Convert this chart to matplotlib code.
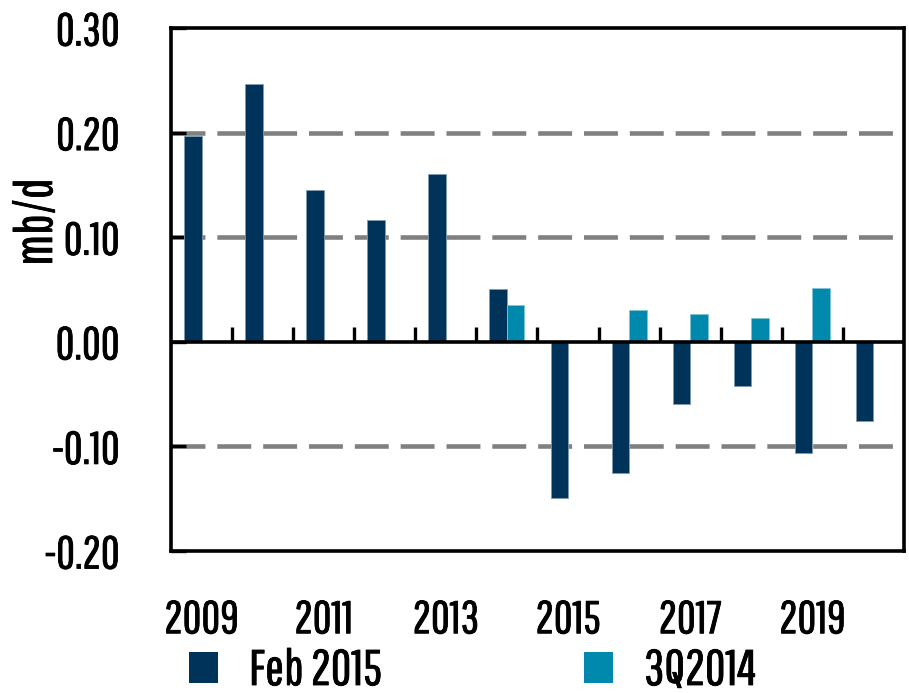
import numpy as np
import matplotlib
matplotlib.use("Agg")
import matplotlib.pyplot as plt
from matplotlib.patches import Patch
from matplotlib import font_manager as fm
import matplotlib.patheffects as pe

years = ["2009", "2010", "2011", "2012", "2013", "2014", "2015", "2016", "2017", "2018", "2019", "2020"]
feb2015 = [0.197, 0.246, 0.145, 0.116, 0.160, 0.050, -0.149, -0.125, -0.059, -0.042, -0.106, -0.076]
q3_2014 = [np.nan, np.nan, np.nan, np.nan, np.nan, 0.035, 0.001, 0.030, 0.027, 0.023, 0.051, np.nan]
yticks = [-0.20, -0.10, 0.00, 0.10, 0.20, 0.30]
ytick_labels = ["-0.20", "-0.10", "0.00", "0.10", "0.20", "0.30"]

dark = "#003359"
teal = "#0089ac"

fam = "DejaVu Sans"
for cand in ["Pathway Gothic One", "Antonio", "PT Sans Narrow"]:
    try:
        fm.findfont(cand, fallback_to_default=False)
        fam = cand
        break
    except Exception:
        pass
plt.rcParams["font.family"] = [fam, "DejaVu Sans"]

FS = 33
bold_fx = [pe.withStroke(linewidth=0.6, foreground="black")]

fig = plt.figure(figsize=(9.09, 6.93), dpi=100)
ax = fig.add_axes([171 / 909, 1 - 551 / 693, (904 - 171) / 909, (551 - 28) / 693])

x = np.arange(len(years))
w = 0.287
ax.bar(x - w / 2, feb2015, w, color=dark, edgecolor="#7f9ab0", linewidth=0.6, zorder=3)
ax.bar(x + w / 2, q3_2014, w, color=teal, edgecolor="#7fc4d6", linewidth=0.6, zorder=3)

ax.set_xlim(-0.5, len(years) - 0.5)
ax.set_ylim(-0.20, 0.30)

for v in [0.10, 0.20, -0.10]:
    ax.axhline(v, color="#808080", lw=3.3, linestyle=(0, (7.4, 2.6)), zorder=1)
ax.axhline(0, color="black", lw=2.6, zorder=4)

for s in ax.spines.values():
    s.set_linewidth(2.6)
    s.set_zorder(5)

ax.set_yticks(yticks)
ax.set_yticklabels(ytick_labels)
ax.tick_params(axis="y", direction="in", length=11, width=2.4, pad=37, labelsize=FS)

ax.set_xticks(x[::2])
ax.set_xticklabels(years[::2])
ax.tick_params(axis="x", length=0, pad=34, labelsize=FS)

for t in ax.get_xticklabels() + ax.get_yticklabels():
    t.set_path_effects(bold_fx)

# category boundary ticks on the zero line
sec = ax.secondary_xaxis((0 - (-0.20)) / 0.50)
sec.set_xticks(x[:-1] + 0.5)
sec.tick_params(direction="in", length=11, width=2.4, labelbottom=False, labeltop=False)
sec.set_xticklabels([])
sec.spines["bottom"].set_visible(False)
sec.spines["top"].set_visible(False)

fig.text(37 / 909, 1 - 222 / 693, "mb/d", rotation=90, ha="center", va="center",
         fontsize=38, path_effects=bold_fx)

h1 = Patch(facecolor=dark, edgecolor="none")
h2 = Patch(facecolor=teal, edgecolor="none")
LFS = 36
leg_kw = dict(frameon=False, fontsize=LFS, handlelength=0.58, handleheight=0.58,
              handletextpad=0.62, borderpad=0, borderaxespad=0, loc="center left")
l1 = fig.legend(handles=[h1], labels=["Feb 2015"], bbox_to_anchor=(189 / 909, 1 - 671 / 693), **leg_kw)
l2 = fig.legend(handles=[h2], labels=["3Q2014"], bbox_to_anchor=(584 / 909, 1 - 671 / 693), **leg_kw)
for lg in (l1, l2):
    for t in lg.get_texts():
        t.set_path_effects(bold_fx)

fig.savefig("out.png", dpi=100)
